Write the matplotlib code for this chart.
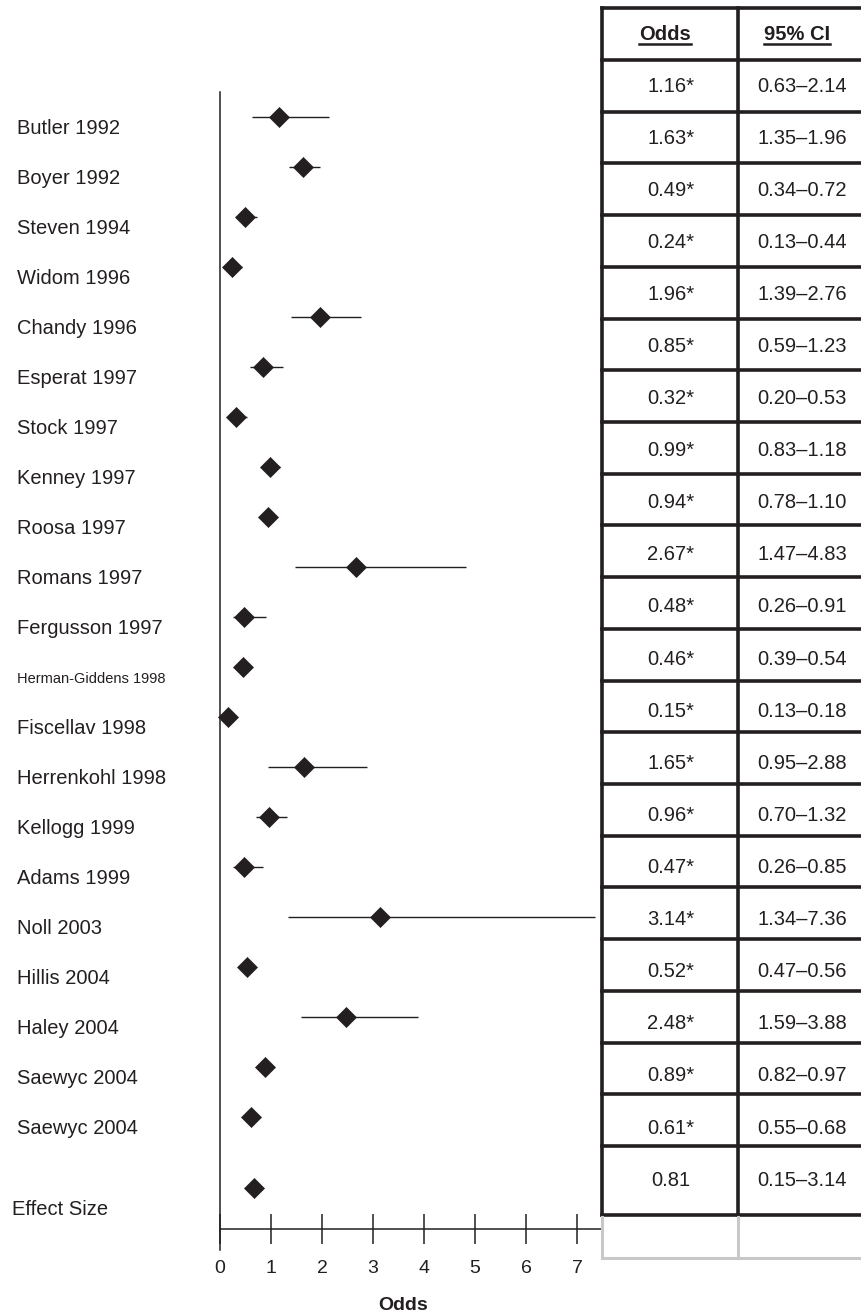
import matplotlib
matplotlib.use("Agg")
import matplotlib.pyplot as plt
from matplotlib.transforms import blended_transform_factory

plt.rcParams["font.family"] = ["Liberation Sans", "DejaVu Sans"]

# data
studies = ["Butler 1992", "Boyer 1992", "Steven 1994", "Widom 1996", "Chandy 1996",
           "Esperat 1997", "Stock 1997", "Kenney 1997", "Roosa 1997", "Romans 1997",
           "Fergusson 1997", "Herman-Giddens 1998", "Fiscellav 1998", "Herrenkohl 1998",
           "Kellogg 1999", "Adams 1999", "Noll 2003", "Hillis 2004", "Haley 2004",
           "Saewyc 2004", "Saewyc 2004"]
odds = [1.16, 1.63, 0.49, 0.24, 1.96, 0.85, 0.32, 0.99, 0.94, 2.67, 0.48,
        0.46, 0.15, 1.65, 0.96, 0.47, 3.14, 0.52, 2.48, 0.89, 0.61]
ci_lo = [0.63, 1.35, 0.34, 0.13, 1.39, 0.59, 0.20, 0.83, 0.78, 1.47, 0.26,
         0.39, 0.13, 0.95, 0.70, 0.26, 1.34, 0.47, 1.59, 0.82, 0.55]
ci_hi = [2.14, 1.96, 0.72, 0.44, 2.76, 1.23, 0.53, 1.18, 1.10, 4.83, 0.91,
         0.54, 0.18, 2.88, 1.32, 0.85, 7.36, 0.56, 3.88, 0.97, 0.68]
pooled_odds, pooled_lo, pooled_hi = 0.81, 0.15, 3.14
effect_marker = 0.67  # where the summary diamond sits in the plot
xticks = [0, 1, 2, 3, 4, 5, 6, 7]

INK = "#231f20"
W, H = 861, 1314


def fx(px):
    return px / W


def fy(py):
    return 1 - py / H


fig = plt.figure(figsize=(W / 100, H / 100), dpi=100)

# forest plot axes (pixel layout: x 220..601, y 92..1250)
ax = fig.add_axes([fx(220), fy(1250), (601 - 220) / W, (1250 - 92) / H])
ax.set_xlim(0, 381 / 51)
ax.set_ylim((1250 - 117) / 50, (92 - 117) / 50)
rows = list(range(len(studies)))
effect_row = (1188 - 117) / 50
axis_row = (1229 - 117) / 50

ax.hlines(rows, ci_lo, ci_hi, color=INK, lw=1.0, zorder=2)
ax.plot(odds, rows, "D", color=INK, ms=10, mew=0.5, clip_on=False, zorder=3)
ax.plot([effect_marker], [effect_row], "D", color=INK, ms=10, mew=0.5, clip_on=False, zorder=3)

for s in ["top", "right"]:
    ax.spines[s].set_visible(False)
ax.spines["left"].set_linewidth(1.1)
ax.spines["left"].set_color(INK)
ax.spines["bottom"].set_position(("data", axis_row))
ax.spines["bottom"].set_linewidth(1.1)
ax.spines["bottom"].set_color(INK)
ax.set_yticks([])
ax.set_xticks(xticks)
ax.tick_params(axis="x", direction="inout", length=22, width=1.1, pad=11,
               labelsize=14, colors=INK)

lab_tr = blended_transform_factory(fig.transFigure, ax.transData)
for i, name in enumerate(studies):
    size = 10.5 if name.startswith("Herman") else 14.5
    ax.text(fx(17), i + 0.24, name, transform=lab_tr, fontsize=size, color=INK,
            ha="left", va="center", clip_on=False)
ax.text(fx(12), effect_row + 0.42, "Effect Size", transform=lab_tr, fontsize=14.5,
        color=INK, ha="left", va="center", clip_on=False)
fig.text(fx(403), fy(1305), "Odds", fontsize=14, fontweight="bold", color=INK,
         ha="center", va="center")

# table overlay in pixel coordinates
tax = fig.add_axes([0, 0, 1, 1])
tax.set_xlim(0, W)
tax.set_ylim(H, 0)
tax.axis("off")
tax.patch.set_visible(False)

left, mid, right = 602, 738, 875
top, head, body_end, last_end, gray_end = 8, 60, 1146, 1215, 1258
row_h = (body_end - head) / len(studies)
lw_dark = 2.6
kw = dict(color=INK, lw=lw_dark, solid_capstyle="projecting")
hlines_y = [top, head] + [head + k * row_h for k in range(1, len(studies) + 1)] + [last_end]
for y in hlines_y:
    tax.plot([left, right], [y, y], **kw)
for x in [left, mid]:
    tax.plot([x, x], [top, last_end], **kw)
gkw = dict(color="#c8c8c8", lw=2.2, solid_capstyle="projecting")
for x in [left, mid]:
    tax.plot([x, x], [last_end + 2, gray_end], **gkw)
tax.plot([left, right], [gray_end, gray_end], **gkw)

h1 = tax.text(665, 34, "Odds", fontsize=14.5, fontweight="bold", color=INK,
              ha="center", va="center")
h2 = tax.text(797, 34, "95% CI", fontsize=14.5, fontweight="bold", color=INK,
              ha="center", va="center")

for i in rows:
    y = 86 + i * 52.1
    tax.text(671, y, f"{odds[i]:.2f}*", fontsize=14.5, color=INK, ha="center", va="center")
    tax.text(802, y, f"{ci_lo[i]:.2f}\u2013{ci_hi[i]:.2f}", fontsize=14.5, color=INK,
             ha="center", va="center")
tax.text(671, (body_end + last_end) / 2, f"{pooled_odds:.2f}", fontsize=14.5, color=INK,
         ha="center", va="center")
tax.text(802, (body_end + last_end) / 2, f"{pooled_lo:.2f}\u2013{pooled_hi:.2f}",
         fontsize=14.5, color=INK, ha="center", va="center")

# underline the headers
fig.canvas.draw()
inv = tax.transData.inverted()
for t in (h1, h2):
    bb = t.get_window_extent()
    x0, _ = inv.transform((bb.x0, bb.y0))
    x1, _ = inv.transform((bb.x1, bb.y0))
    tax.plot([x0, x1], [44, 44], color=INK, lw=1.8)

fig.savefig("out.png", dpi=100)
